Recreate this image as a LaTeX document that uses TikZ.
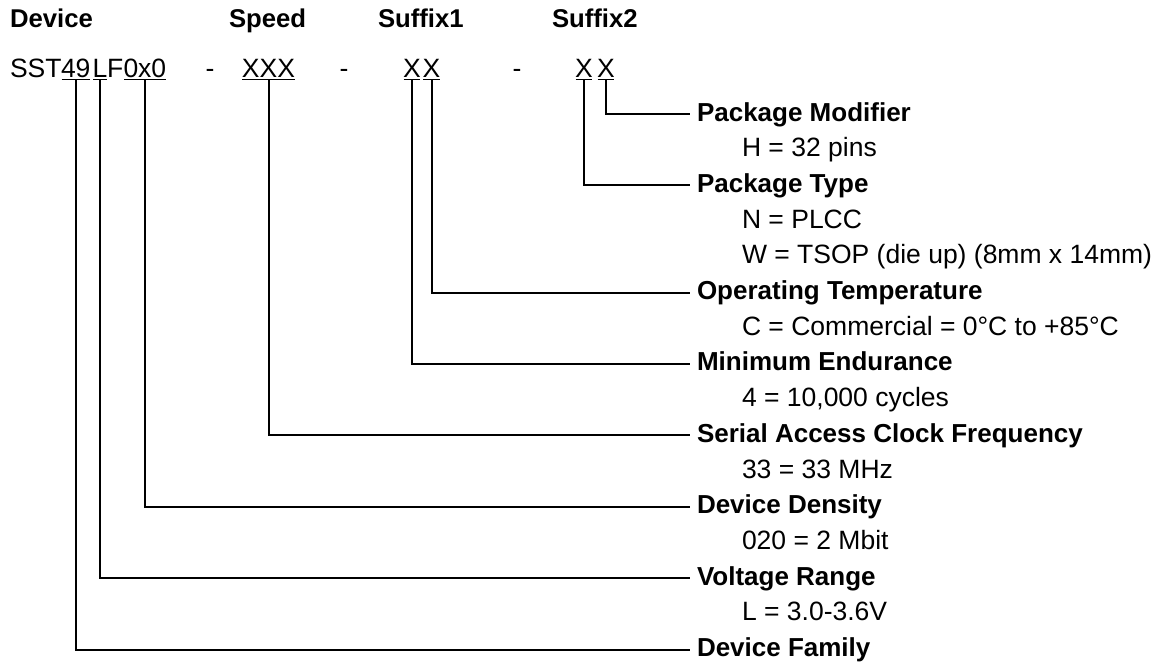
\documentclass[tikz,border=0pt]{standalone}
\usepackage{fontspec}
\setmainfont{Liberation Sans}
\begin{document}
\begin{tikzpicture}[x=1pt,y=-1pt,
  reg/.style={font=\fontsize{26.5}{30}\selectfont, inner sep=0pt, outer sep=0pt, anchor=base west},
  hdr/.style={font=\fontsize{25.7}{30}\selectfont\bfseries, inner sep=0pt, outer sep=0pt, anchor=base west},
  lab/.style={font=\fontsize{26}{30}\selectfont\bfseries, anchor=west, text height=14pt, text depth=0pt, inner xsep=7pt, inner ysep=0pt, outer sep=0pt},
  det/.style={font=\fontsize{26.5}{30}\selectfont, anchor=west, text height=14pt, text depth=0pt, inner sep=0pt, outer sep=0pt},
  conn/.style={line width=2pt},
  uline/.style={line width=1.3pt}]
\useasboundingbox (0,0) rectangle (1155,665);

% column headers
\node[hdr] (hDev) at (10,27) {Device};
\node[hdr] (hSpd) at (229,27) {Speed};
\node[hdr] (hSa) at (378,27) {Suffix1};
\node[hdr] (hSb) at (552,27) {Suffix2};

% part number
\node[reg] (pSST) at (10,77) {SST};
\node[reg] (p49) at (61,77) {49};
\node[reg] (pL) at (92.5,77) {L};
\node[reg] (pF) at (107,77) {F};
\node[reg] (pDen) at (123.5,77) {0x0};
\node[reg, anchor=base] (dA) at (210,77) {-};
\node[reg, anchor=base] (pSpd) at (268.5,77) {XXX};
\node[reg, anchor=base] (dB) at (344,77) {-};
\node[reg, anchor=base] (pEnd) at (412,77) {X};
\node[reg, anchor=base] (pTmp) at (431.5,77) {X};
\node[reg, anchor=base] (dC) at (517,77) {-};
\node[reg, anchor=base] (pPT) at (584,77) {X};
\node[reg, anchor=base] (pPM) at (606,77) {X};

% underlines
\foreach \n in {p49,pL,pDen,pSpd,pEnd,pTmp,pPT,pPM}{
  \draw[uline] ([xshift=0.5pt,yshift=-2.5pt]\n.south west) -- ([xshift=-0.5pt,yshift=-2.5pt]\n.south east);
}

% labels and details
\node[lab] (lPM) at (690,114) {Package Modifier};
\node[det] (tPM) at (742,149.7) {H = 32 pins};
\node[lab] (lPT) at (690,185.4) {Package Type};
\node[det] (tPTa) at (742,221.1) {N = PLCC};
\node[det] (tPTb) at (742,256.8) {W = TSOP (die up) (8mm x 14mm)};
\node[lab] (lOT) at (690,292.5) {Operating Temperature};
\node[det] (tOT) at (742,328.2) {C = Commercial = 0°C to +85°C};
\node[lab] (lME) at (690,363.9) {Minimum Endurance};
\node[det] (tME) at (742,399.6) {4 = 10,000 cycles};
\node[lab] (lSA) at (690,435.3) {Serial Access Clock Frequency};
\node[det] (tSA) at (742,471.0) {33 = 33 MHz};
\node[lab] (lDD) at (690,506.7) {Device Density};
\node[det] (tDD) at (742,542.4) {020 = 2 Mbit};
\node[lab] (lVR) at (690,578.1) {Voltage Range};
\node[det] (tVR) at (742,613.8) {L = 3.0-3.6V};
\node[lab] (lDF) at (690,649.5) {Device Family};

% connectors
\draw[conn] ([yshift=-2.5pt]pPM.south) |- (lPM.west);
\draw[conn] ([yshift=-2.5pt]pPT.south) |- (lPT.west);
\draw[conn] ([yshift=-2.5pt]pTmp.south) |- (lOT.west);
\draw[conn] ([yshift=-2.5pt]pEnd.south) |- (lME.west);
\draw[conn] ([yshift=-2.5pt]pSpd.south) |- (lSA.west);
\draw[conn] ([yshift=-2.5pt]pDen.south) |- (lDD.west);
\draw[conn] ([yshift=-2.5pt]pL.south) |- (lVR.west);
\draw[conn] ([yshift=-2.5pt]p49.south) |- (lDF.west);
\end{tikzpicture}
\end{document}
